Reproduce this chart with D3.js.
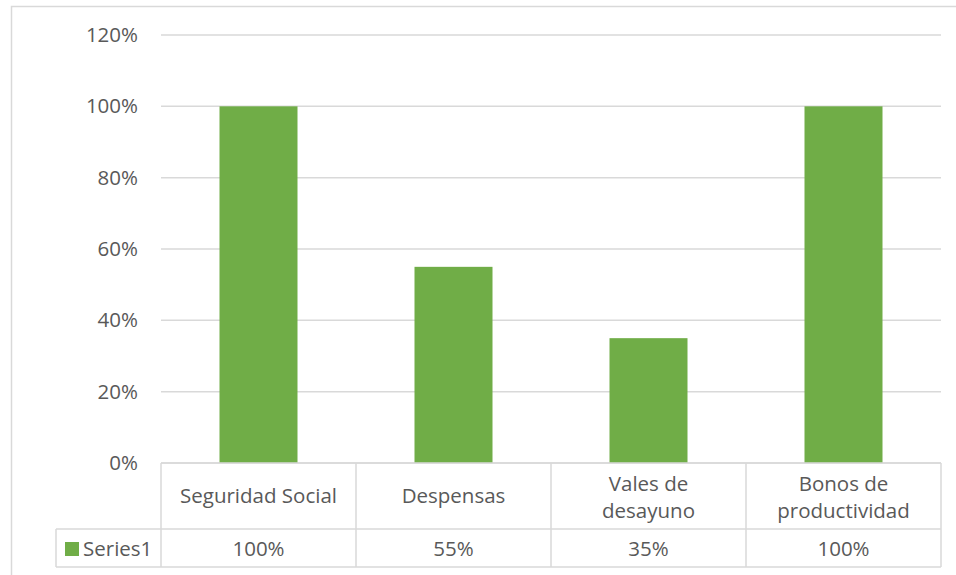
<!DOCTYPE html>
<html>
<head>
<meta charset="utf-8">
<script src="https://cdn.jsdelivr.net/npm/d3@7"></script>
<style>
  body { margin: 0; background: #fff; }
  svg text { font-family: "Open Sans", Lato, sans-serif; fill: #595959; }
</style>
</head>
<body>
<svg id="chart" width="956" height="575"></svg>
<script>
// data
const categories = [["Seguridad Social"], ["Despensas"], ["Vales de", "desayuno"], ["Bonos de", "productividad"]];
const values = [1.0, 0.55, 0.35, 1.0];
const tickValues = [0, 0.2, 0.4, 0.6, 0.8, 1.0, 1.2];
const seriesName = "Series1";

const barColor = "#70ad47";
const lineColor = "#d9d9d9";
const fontSize = "20.5px";

// plot area
const plotLeft = 161, plotRight = 941, plotTop = 35, plotBottom = 463;
const headerBottom = 529, tableBottom = 567, legendLeft = 56;

const svg = d3.select("#chart");

// outer chart border (top and left visible)
svg.append("rect")
  .attr("x", 11.5).attr("y", 6.5)
  .attr("width", 960).attr("height", 600)
  .attr("fill", "none")
  .attr("stroke", lineColor)
  .attr("stroke-width", 1.5);

const x = d3.scaleBand()
  .domain(d3.range(values.length))
  .range([plotLeft, plotRight])
  .paddingInner(0.6)
  .paddingOuter(0.3);

const xCol = d3.scaleBand()
  .domain(d3.range(values.length))
  .range([plotLeft, plotRight]);

const y = d3.scaleLinear().domain([0, 1.2]).range([plotBottom, plotTop]);

// gridlines
svg.append("g")
  .selectAll("line")
  .data(tickValues)
  .enter()
  .append("line")
  .attr("x1", plotLeft).attr("x2", plotRight)
  .attr("y1", (d) => y(d)).attr("y2", (d) => y(d))
  .attr("stroke", lineColor)
  .attr("stroke-width", 1.5);

// y tick labels
svg.append("g")
  .selectAll("text")
  .data(tickValues)
  .enter()
  .append("text")
  .attr("x", 138)
  .attr("y", (d) => y(d) + 7)
  .attr("text-anchor", "end")
  .style("font-size", fontSize)
  .text(d3.format(".0%"));

// bars
svg.append("g")
  .selectAll("rect")
  .data(values)
  .enter()
  .append("rect")
  .attr("x", (d, i) => x(i))
  .attr("width", x.bandwidth())
  .attr("y", (d) => y(d))
  .attr("height", (d) => y(0) - y(d))
  .attr("fill", barColor);

// data table lines
const table = svg.append("g")
  .attr("stroke", lineColor)
  .attr("stroke-width", 1.5);

table.append("line").attr("x1", plotLeft).attr("x2", plotRight).attr("y1", plotBottom).attr("y2", plotBottom);
table.append("line").attr("x1", legendLeft).attr("x2", plotRight).attr("y1", headerBottom).attr("y2", headerBottom);
table.append("line").attr("x1", legendLeft).attr("x2", plotRight).attr("y1", tableBottom).attr("y2", tableBottom);
table.append("line").attr("x1", legendLeft).attr("x2", legendLeft).attr("y1", headerBottom).attr("y2", tableBottom);
table.selectAll(".vline")
  .data(d3.range(values.length + 1))
  .enter()
  .append("line")
  .attr("class", "vline")
  .attr("x1", (i) => (i < values.length ? xCol(i) : plotRight))
  .attr("x2", (i) => (i < values.length ? xCol(i) : plotRight))
  .attr("y1", plotBottom)
  .attr("y2", tableBottom);

// category labels
const catText = svg.append("g")
  .selectAll("text")
  .data(categories)
  .enter()
  .append("text")
  .attr("text-anchor", "middle")
  .style("font-size", fontSize)
  .attr("x", (d, i) => xCol(i) + xCol.bandwidth() / 2)
  .attr("y", (d) => (d.length === 1 ? 503 : 491));

catText.each(function (lines) {
  const t = d3.select(this);
  lines.forEach((ln, k) => {
    t.append("tspan")
      .attr("x", t.attr("x"))
      .attr("dy", k === 0 ? 0 : 27)
      .text(ln);
  });
});

// values row
svg.append("g")
  .selectAll("text")
  .data(values)
  .enter()
  .append("text")
  .attr("text-anchor", "middle")
  .style("font-size", fontSize)
  .attr("x", (d, i) => xCol(i) + xCol.bandwidth() / 2)
  .attr("y", 556)
  .text(d3.format(".0%"));

// legend key
svg.append("rect")
  .attr("x", 65).attr("y", 542)
  .attr("width", 14).attr("height", 14)
  .attr("fill", barColor);
svg.append("text")
  .attr("x", 83).attr("y", 556)
  .style("font-size", fontSize)
  .text(seriesName);
</script>
</body>
</html>
